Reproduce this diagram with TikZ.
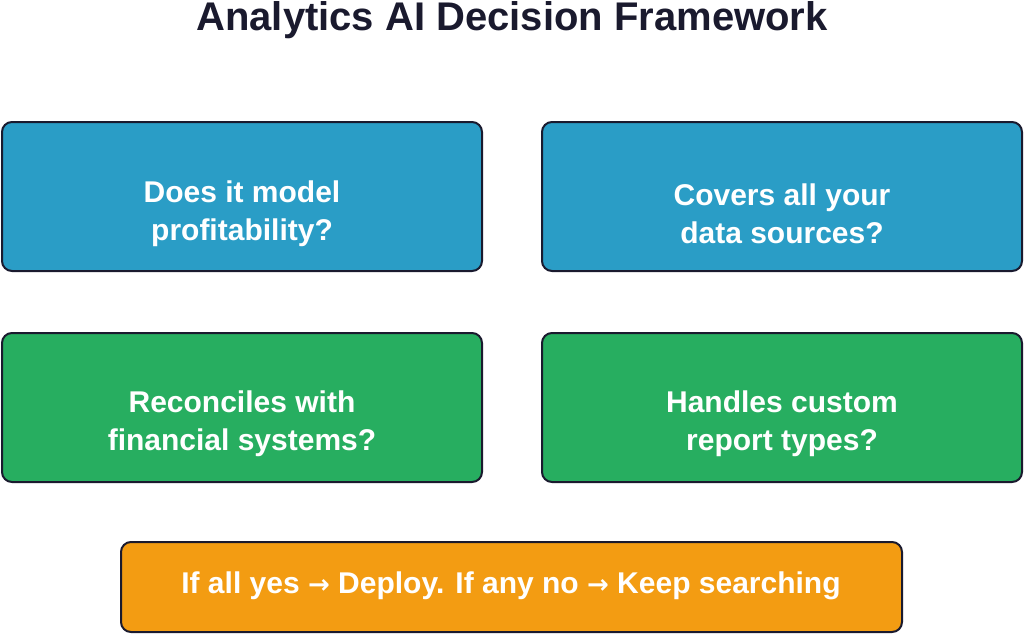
\documentclass[tikz,border=0pt]{standalone}
\usepackage{fontspec}
\setmainfont{Liberation Sans}
\newfontfamily\symf{DejaVu Sans}
\definecolor{bdr}{HTML}{1A1A2E}
\definecolor{cblue}{HTML}{2A9DC6}
\definecolor{cgreen}{HTML}{27AE60}
\definecolor{corange}{HTML}{F39C12}
\begin{document}
\begin{tikzpicture}[x=1pt,y=-1pt,
  box/.style={draw=bdr,line width=2pt,rounded corners=10pt},
  txt/.style={text=white,font=\bfseries\fontsize{30}{38}\selectfont,align=center}]
\useasboundingbox (0,0) rectangle (1024,634);
\node[font=\bfseries\fontsize{40}{48}\selectfont,text=bdr] (title) at (512,20) {Analytics AI Decision Framework};
\draw[box,fill=cblue] (2,122) rectangle (482,271);
\node[txt] (a) at (242,214) {Does it model\\profitability?};
\draw[box,fill=cblue] (542,122) rectangle (1022,271);
\node[txt] (b) at (782,214) {Covers all your\\data sources?};
\draw[box,fill=cgreen] (2,333) rectangle (482,482);
\node[txt] (c) at (242,424) {Reconciles with\\financial systems?};
\draw[box,fill=cgreen] (542,333) rectangle (1022,482);
\node[txt] (d) at (782,424) {Handles custom\\report types?};
\draw[box,fill=corange] (121,542) rectangle (902,632);
\begin{scope}
\clip (121,542) rectangle (902,632);
\node[txt] (e) at (511,586) {If all yes {\symf\fontsize{26}{30}\selectfont →} Deploy. If any no {\symf\fontsize{26}{30}\selectfont →} Keep searching};
\end{scope}
\end{tikzpicture}
\end{document}
